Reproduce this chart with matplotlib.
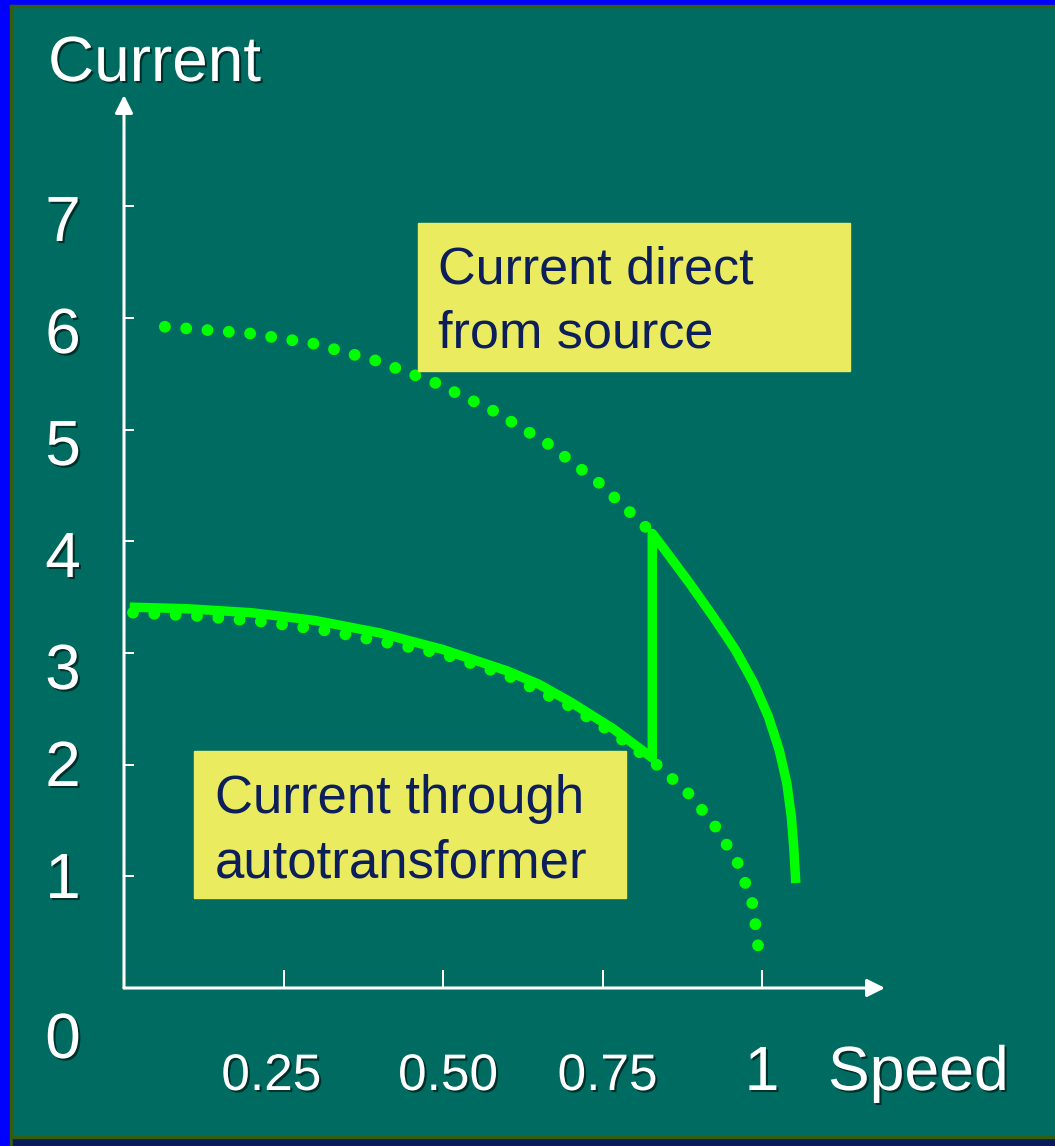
#!/usr/bin/env python3

"""Motor starting current: direct on line vs. autotransformer start."""

import matplotlib
matplotlib.use("Agg")
import matplotlib.pyplot as plt
import matplotlib.patheffects as pe
from matplotlib.patches import Rectangle

# curves (speed in p.u., current in p.u.)
speed_direct = [0.064, 0.197, 0.296, 0.393, 0.487, 0.578, 0.665, 0.745, 0.828]
current_direct = [5.92, 5.86, 5.77, 5.62, 5.42, 5.17, 4.87, 4.52, 4.07]

speed_auto = [0.014, 0.116, 0.216, 0.317, 0.414, 0.50, 0.60, 0.70, 0.767,
              0.837, 0.887, 0.929, 0.964, 0.986, 0.994]
current_auto = [3.36, 3.33, 3.28, 3.20, 3.09, 2.99, 2.80, 2.52, 2.28,
                1.99, 1.73, 1.43, 1.10, 0.74, 0.37]

# actual current when switching from autotransformer to full voltage
speed_start = [0.009, 0.10, 0.20, 0.30, 0.40, 0.50, 0.60, 0.65, 0.70, 0.767,
               0.828, 0.828, 0.848, 0.887, 0.924, 0.958, 0.987, 1.010, 1.027,
               1.039, 1.046, 1.050, 1.053]
current_start = [3.41, 3.395, 3.36, 3.29, 3.18, 3.03, 2.84, 2.72, 2.56, 2.32,
                 2.06, 4.07, 3.92, 3.62, 3.32, 3.03, 2.73, 2.43, 2.13,
                 1.83, 1.53, 1.24, 0.94]

x_ticks = [0.25, 0.50, 0.75, 1]
x_labels = ["0.25", "0.50", "0.75", "1"]
y_ticks = [1, 2, 3, 4, 5, 6, 7]
y_labels = ["1", "2", "3", "4", "5", "6", "7"]

W, H = 1055, 1146
BG = "#006B60"
GREEN = "#00FF00"
YELLOW = "#EBEB5F"
NAVY = "#0C1F5B"
FONT = "Liberation Sans"
shadow = [pe.withSimplePatchShadow(offset=(1.5, -1.5), shadow_rgbFace="k", alpha=0.55)]


def px(x, y):
    """pixel position (from top-left) -> figure fraction"""
    return x / W, 1 - y / H


fig = plt.figure(figsize=(W / 100, H / 100), dpi=100, facecolor=BG)

# slide border
border = [((0, 0), 10, H, "#0000FF"),
          ((0, H - 5), W, 5, "#0000FF"),
          ((10, 0), 1.5, H - 5, "#335E10"),
          ((10, H - 7), W, 2, "#335E10"),
          ((13, 0), W, 8, "#0B1A58"),
          ((13, 8), W, 2, "#335E10")]
for (bx, by), bw, bh, c in border:
    fig.patches.append(Rectangle((bx / W, by / H), bw / W, bh / H,
                                 transform=fig.transFigure, color=c, zorder=0))

# axes: x=0 at px 124, x=1 at px 762; y=0 at px 988, 111.7 px per unit
x0, x1, y0 = 124, 885, 988
ytop = 95
ax = fig.add_axes([x0 / W, (H - y0) / H, (x1 - x0) / W, (y0 - ytop) / H])
ax.set_facecolor("none")
ax.set_xlim(0, (x1 - x0) / 638)
ax.set_ylim(0, (y0 - ytop) / 111.7)
for s in ax.spines.values():
    s.set_visible(False)

ax.set_xticks(x_ticks)
ax.set_xticklabels([])
ax.set_yticks(y_ticks)
ax.set_yticklabels([])
ax.tick_params(axis="x", direction="in", length=13, width=1.4, color="white")
ax.tick_params(axis="y", direction="in", length=7.2, width=1.4, color="white")

arrow = dict(arrowstyle="-|>", color="white", lw=2.2, mutation_scale=27,
             shrinkA=0, shrinkB=0)
ax.annotate("", xy=(1, 0), xytext=(0, 0), xycoords="axes fraction", arrowprops=arrow)
ax.annotate("", xy=(0, 1), xytext=(0, 0), xycoords="axes fraction", arrowprops=arrow)

dots = (0, (0.01, 1.8))
ax.plot(speed_direct, current_direct, color=GREEN, lw=8.5, linestyle=dots,
        dash_capstyle="round", zorder=2)
ax.plot(speed_auto, current_auto, color=GREEN, lw=8.5, linestyle=dots,
        dash_capstyle="round", zorder=2)
ax.plot(speed_start, current_start, color=GREEN, lw=6.8, solid_joinstyle="round",
        solid_capstyle="butt", zorder=3)

# tick labels, hand placed on the slide (offsets in data units)
x_shift = [-0.019, 0.008, 0.008, 0.0]
for v, dx, lab in zip(x_ticks, x_shift, x_labels):
    ax.text(v + dx, (y0 - 1090) / 111.7, lab, ha="center", va="baseline", color="white",
            fontsize=45 if lab == "1" else 37, family=FONT, path_effects=shadow,
            clip_on=False)
y_pos = [0.958, 1.961, 2.829, 3.832, 4.834, 5.837, 6.84]
for yp, lab in zip(y_pos, y_labels):
    ax.text((63 - x0) / 638, yp, lab, ha="center", va="center", color="white",
            fontsize=46, family=FONT, path_effects=shadow, clip_on=False)
ax.text((63 - x0) / 638, -0.474, "0", ha="center", va="center", color="white",
        fontsize=46, family=FONT, path_effects=shadow, clip_on=False)

fig.text(*px(48, 81), "Current", ha="left", va="baseline", color="white",
         fontsize=46, family=FONT, path_effects=shadow)
fig.text(*px(828, 1090), "Speed", ha="left", va="baseline", color="white",
         fontsize=45, family=FONT, path_effects=shadow)

# yellow annotation boxes
for (bx0, by0, bx1, by1) in [(418, 223, 850, 371), (194, 751, 626, 898)]:
    fig.patches.append(Rectangle(px(bx0, by1), (bx1 - bx0) / W, (by1 - by0) / H,
                                 transform=fig.transFigure, color=YELLOW, zorder=4))
fig.text(*px(438, 284), "Current direct", color=NAVY, fontsize=37.5, family=FONT,
         va="baseline", zorder=5)
fig.text(*px(438, 348), "from source", color=NAVY, fontsize=37.5, family=FONT,
         va="baseline", zorder=5)
fig.text(*px(215, 813), "Current through", color=NAVY, fontsize=38, family=FONT,
         va="baseline", zorder=5)
fig.text(*px(215, 877), "autotransformer", color=NAVY, fontsize=38, family=FONT,
         va="baseline", zorder=5)

fig.savefig("out.png", dpi=100, facecolor=fig.get_facecolor())
